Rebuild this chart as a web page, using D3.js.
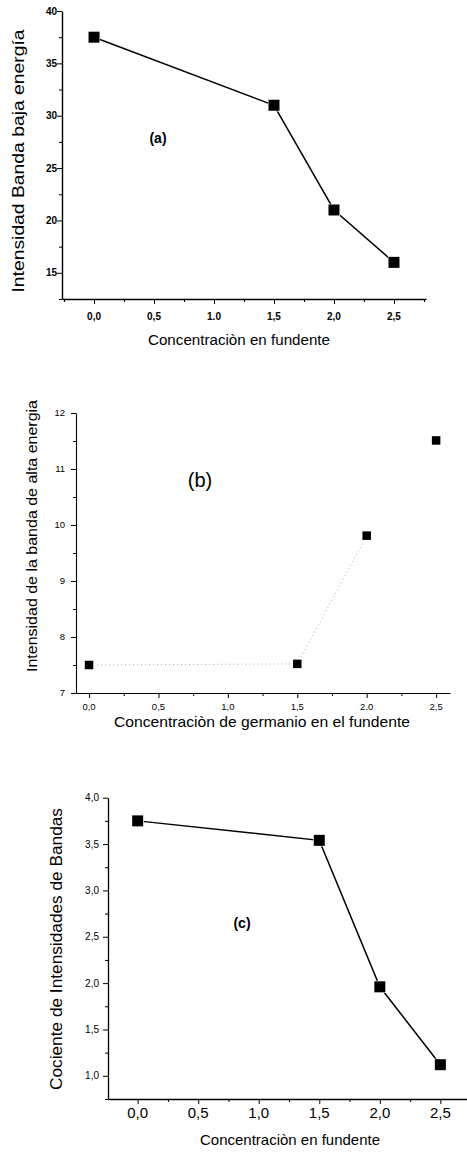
<!DOCTYPE html>
<html>
<head>
<meta charset="utf-8">
<script src="https://cdn.jsdelivr.net/npm/d3@7"></script>
<style>
  html, body { margin: 0; padding: 0; background: #fff; }
  svg { display: block; font-family: 'Liberation Sans', Arial, sans-serif; }
</style>
</head>
<body>
<svg id="chart" width="467" height="1155"></svg>
<script>
'use strict';
// concentration of germanium in the flux (x, shared by the three panels)
const concentration = [0, 1.5, 2.0, 2.5];
const bandaBaja = [37.5, 31.0, 21.0, 16.0];
const bandaAlta = [7.5, 7.52, 9.81, 11.51];
const cociente = [3.75, 3.54, 1.96, 1.12];

const xTicks = [0, 0.5, 1.0, 1.5, 2.0, 2.5];
const xMinorTicks = [-0.25, 0.25, 0.75, 1.25, 1.75, 2.25, 2.75];
const xTickLabelsA = ['0,0', '0,5', '1.0', '1,5', '2,0', '2,5'];
const xTickLabelsB = ['0,0', '0,5', '1,0', '1,5', '2.0', '2,5'];
const xTickLabelsC = ['0,0', '0,5', '1,0', '1,5', '2,0', '2,5'];

const yTicksA = [15, 20, 25, 30, 35, 40];
const yMinorA = [12.5, 17.5, 22.5, 27.5, 32.5, 37.5];
const yTicksB = [7, 8, 9, 10, 11, 12];
const yMinorB = [7.5, 8.5, 9.5, 10.5, 11.5];
const yTicksC = [1.0, 1.5, 2.0, 2.5, 3.0, 3.5, 4.0];
const yMinorC = [0.75, 1.25, 1.75, 2.25, 2.75, 3.25, 3.75];
const yTickLabelsC = ['1,0', '1,5', '2,0', '2,5', '3,0', '3,5', '4,0'];

const svg = d3.select('#chart');

const panels = [
  {
    values: bandaBaja,
    xDomain: [-0.267, 2.767], xRange: [62, 426],
    yDomain: [12.5, 40], yRange: [299, 11],
    yTicks: yTicksA, yMinor: yMinorA, yLabels: yTicksA.map(String),
    xLabels: xTickLabelsA,
    tickFont: 10, tickWeight: 'bold', xTickBase: 320, yTickRight: 57, xTickFont: 10,
    axisWidth: 1.4, markSize: 11,
    line: { stroke: '#000', width: 1.5, dash: null },
    yTitle: 'Intensidad Banda  baja energía', yTitleX: 24, yTitleY: 161, yTitleLen: 263, yTitleFont: 16,
    xTitle: 'Concentraciòn en fundente', xTitleX: 239, xTitleY: 345, xTitleLen: 182, xTitleFont: 15.5,
    tag: '(a)', tagX: 158, tagY: 143, tagFont: 14, tagWeight: 'bold',
  },
  {
    values: bandaAlta,
    xDomain: [-0.094, 2.6], xRange: [76, 450],
    yDomain: [7, 12], yRange: [693, 413],
    yTicks: yTicksB, yMinor: yMinorB, yLabels: yTicksB.map(String),
    xLabels: xTickLabelsB,
    tickFont: 9.5, tickWeight: 'normal', xTickBase: 710, yTickRight: 65, xTickFont: 9.5,
    axisWidth: 1.1, markSize: 8.5,
    line: { stroke: '#b0b0b0', width: 1, dash: '1,3' },
    yTitle: 'Intensidad de la banda de alta energia', yTitleX: 37, yTitleY: 536, yTitleLen: 272, yTitleFont: 14,
    xTitle: 'Concentraciòn de germanio en el fundente', xTitleX: 262, xTitleY: 727, xTitleLen: 296, xTitleFont: 15,
    tag: '(b)', tagX: 200, tagY: 487, tagFont: 20, tagWeight: 'normal',
  },
  {
    values: cociente,
    xDomain: [-0.245, 2.72], xRange: [108, 467],
    yDomain: [0.75, 4.0], yRange: [1099, 797.7],
    yTicks: yTicksC, yMinor: yMinorC, yLabels: yTickLabelsC,
    xLabels: xTickLabelsC,
    tickFont: 10, tickWeight: 'normal', xTickBase: 1118, yTickRight: 99, xTickFont: 15,
    axisWidth: 1.3, markSize: 11,
    line: { stroke: '#000', width: 1.5, dash: null },
    yTitle: 'Cociente de Intensidades de Bandas', yTitleX: 62, yTitleY: 949, yTitleLen: 282, yTitleFont: 16,
    xTitle: 'Concentraciòn en fundente', xTitleX: 290, xTitleY: 1145, xTitleLen: 180, xTitleFont: 15,
    tag: '(c)', tagX: 242, tagY: 928, tagFont: 14, tagWeight: 'bold',
  },
];

panels.forEach(drawPanel);

function drawPanel(p) {
  const x = d3.scaleLinear().domain(p.xDomain).range(p.xRange);
  const y = d3.scaleLinear().domain(p.yDomain).range(p.yRange);
  const g = svg.append('g');
  const x0 = p.xRange[0], yBottom = p.yRange[0];
  const inX = (v) => v >= p.xDomain[0] && v <= p.xDomain[1];
  const inY = (v) => v >= p.yDomain[0] && v <= p.yDomain[1];

  // X-Axis
  const xAxis = g.append('g').attr('transform', `translate(0,${yBottom})`)
    .call(d3.axisBottom(x).tickValues(xTicks).tickSize(5).tickSizeOuter(0).tickFormat(''));
  g.append('g').attr('transform', `translate(0,${yBottom})`)
    .call(d3.axisBottom(x).tickValues(xMinorTicks.filter(inX)).tickSize(3).tickSizeOuter(0).tickFormat(''))
    .call((a) => a.select('.domain').remove());

  // Y-Axis
  const yAxis = g.append('g').attr('transform', `translate(${x0},0)`)
    .call(d3.axisLeft(y).tickValues(p.yTicks).tickSize(5).tickSizeOuter(0).tickFormat(''));
  g.append('g').attr('transform', `translate(${x0},0)`)
    .call(d3.axisLeft(y).tickValues(p.yMinor.filter(inY)).tickSize(3).tickSizeOuter(0).tickFormat(''))
    .call((a) => a.select('.domain').remove());

  g.selectAll('.domain').attr('stroke', '#000').attr('stroke-width', p.axisWidth);
  g.selectAll('.tick line').attr('stroke', '#000').attr('stroke-width', 1);

  // tick labels
  g.append('g').selectAll('text').data(xTicks).join('text')
    .attr('x', (d) => x(d))
    .attr('y', p.xTickBase)
    .attr('text-anchor', 'middle')
    .attr('font-size', p.xTickFont)
    .attr('font-weight', p.tickWeight)
    .text((d, i) => p.xLabels[i]);

  g.append('g').selectAll('text').data(p.yTicks).join('text')
    .attr('x', p.yTickRight)
    .attr('y', (d) => y(d))
    .attr('dy', '0.35em')
    .attr('text-anchor', 'end')
    .attr('font-size', p.tickFont)
    .attr('font-weight', p.tickWeight)
    .text((d, i) => p.yLabels[i]);

  // data line and markers
  const pts = concentration.map((c, i) => [c, p.values[i]]);
  const line = d3.line().x((d) => x(d[0])).y((d) => y(d[1]));
  const linePts = p.line.dash ? pts.slice(0, 3) : pts;
  g.append('path')
    .attr('d', line(linePts))
    .attr('fill', 'none')
    .attr('stroke', p.line.stroke)
    .attr('stroke-width', p.line.width)
    .attr('stroke-dasharray', p.line.dash);

  const s = p.markSize;
  g.append('g').selectAll('rect').data(pts).join('rect')
    .attr('x', (d) => x(d[0]) - s / 2)
    .attr('y', (d) => y(d[1]) - s / 2)
    .attr('width', s)
    .attr('height', s)
    .attr('fill', '#000')
    .attr('stroke', '#fff')
    .attr('stroke-width', 1.2)
    .attr('paint-order', 'stroke');

  // titles
  g.append('text')
    .attr('transform', `translate(${p.yTitleX},${p.yTitleY}) rotate(-90)`)
    .attr('text-anchor', 'middle')
    .attr('font-size', p.yTitleFont)
    .attr('textLength', p.yTitleLen)
    .attr('lengthAdjust', 'spacingAndGlyphs')
    .text(p.yTitle);

  g.append('text')
    .attr('x', p.xTitleX)
    .attr('y', p.xTitleY)
    .attr('text-anchor', 'middle')
    .attr('font-size', p.xTitleFont)
    .attr('textLength', p.xTitleLen)
    .attr('lengthAdjust', 'spacingAndGlyphs')
    .text(p.xTitle);

  g.append('text')
    .attr('x', p.tagX)
    .attr('y', p.tagY)
    .attr('text-anchor', 'middle')
    .attr('font-size', p.tagFont)
    .attr('font-weight', p.tagWeight)
    .text(p.tag);
}
</script>
</body>
</html>
